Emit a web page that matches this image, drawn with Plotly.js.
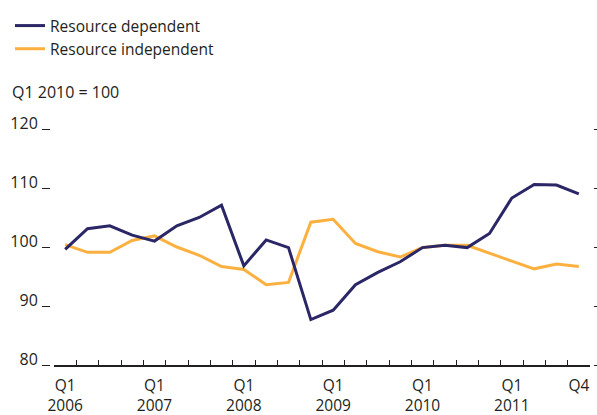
<!DOCTYPE html>
<html>
<head>
<meta charset="utf-8">
<script src="https://cdn.plot.ly/plotly-3.0.1.min.js"></script>
<style>
  html, body { margin: 0; padding: 0; background: #ffffff; }
  #chart { width: 597px; height: 415px; }
</style>
</head>
<body>
<div id="chart"></div>
<script>
var quarters = [
  "Q1 2006","Q2 2006","Q3 2006","Q4 2006",
  "Q1 2007","Q2 2007","Q3 2007","Q4 2007",
  "Q1 2008","Q2 2008","Q3 2008","Q4 2008",
  "Q1 2009","Q2 2009","Q3 2009","Q4 2009",
  "Q1 2010","Q2 2010","Q3 2010","Q4 2010",
  "Q1 2011","Q2 2011","Q3 2011","Q4 2011"
];
var resourceDependent = [
  99.6, 103.1, 103.6, 102.0,
  101.0, 103.6, 105.0, 107.1,
  96.8, 101.2, 99.9, 87.7,
  89.3, 93.6, 95.7, 97.5,
  99.9, 100.3, 99.9, 102.3,
  108.3, 110.6, 110.5, 109.0
];
var resourceIndependent = [
  100.4, 99.1, 99.1, 101.1,
  101.9, 100.0, 98.6, 96.7,
  96.2, 93.6, 94.0, 104.2,
  104.7, 100.6, 99.2, 98.3,
  99.9, 100.3, 100.3, 98.9,
  97.6, 96.3, 97.1, 96.7
];
var labelPositions = [0, 4, 8, 12, 16, 20, 23];
var labelTexts = ["Q1<br>2006", "Q1<br>2007", "Q1<br>2008", "Q1<br>2009", "Q1<br>2010", "Q1<br>2011", "Q4"];
var yTicks = [80, 90, 100, 110, 120];

var idx = quarters.map(function (q, i) { return i; });
var boundaries = [];
for (var i = 0; i <= quarters.length; i++) boundaries.push(i - 0.5);

var FONT = "Open Sans, sans-serif";
var TXT = "#231f20";
var NAVY = "#2b2767";
var ORANGE = "#fbb040";

var traces = [
  {
    x: idx, y: resourceIndependent, text: quarters, type: "scatter", mode: "lines",
    name: "Resource independent", line: { color: ORANGE, width: 3 },
    legendrank: 2, legendgroup: "b", hoverinfo: "text+y"
  },
  {
    x: idx, y: resourceDependent, text: quarters, type: "scatter", mode: "lines",
    name: "Resource dependent", line: { color: NAVY, width: 3 },
    legendrank: 1, legendgroup: "a", hoverinfo: "text+y"
  },
  {
    x: [0], y: [100], xaxis: "x2", yaxis: "y2", type: "scatter", mode: "none",
    showlegend: false, hoverinfo: "skip"
  }
];

var layout = {
  width: 597, height: 415,
  margin: { l: 54, r: 7, t: 129, b: 50, pad: 0, autoexpand: false },
  paper_bgcolor: "#ffffff", plot_bgcolor: "#ffffff",
  font: { family: FONT, size: 16, color: TXT },
  showlegend: true,
  title: {
    text: "Q1 2010 = 100",
    xref: "container", yref: "container",
    x: 12 / 597, xanchor: "left",
    y: 1 - 92.7 / 415, yanchor: "middle",
    font: { family: FONT, size: 16, color: TXT }
  },
  legend: {
    xref: "container", yref: "container",
    x: 10 / 597, xanchor: "left", y: 1 - 9 / 415, yanchor: "top",
    traceorder: "grouped", tracegroupgap: 0,
    font: { family: FONT, size: 15.5, color: TXT },
    bgcolor: "rgba(0,0,0,0)"
  },
  xaxis: {
    range: [-0.5, 23.5], showgrid: false, zeroline: false,
    showline: true, linecolor: TXT, linewidth: 2,
    tickmode: "array", tickvals: boundaries, showticklabels: false,
    ticks: "inside", ticklen: 5, tickwidth: 1, tickcolor: TXT,
    fixedrange: true
  },
  xaxis2: {
    overlaying: "x", anchor: "y2", side: "bottom",
    range: [-0.5, 23.5], showgrid: false, zeroline: false, showline: false,
    tickmode: "array", tickvals: labelPositions, ticktext: labelTexts,
    ticks: "", ticklabelstandoff: 9,
    tickfont: { family: FONT, size: 15.5, color: TXT }
  },
  yaxis: {
    range: [80, 120], showgrid: false, zeroline: false, showline: false,
    anchor: "free", position: 0, shift: -4,
    tickmode: "array", tickvals: yTicks,
    ticks: "outside", ticklen: 8, tickwidth: 1, tickcolor: TXT,
    ticklabelshift: -6, ticklabelstandoff: 1,
    tickfont: { family: FONT, size: 16, color: TXT },
    fixedrange: true
  },
  yaxis2: {
    overlaying: "y", side: "right",
    anchor: "free", position: 1, shift: 3,
    range: [80, 120], showgrid: false, zeroline: false, showline: false,
    tickmode: "array", tickvals: yTicks, showticklabels: false,
    ticks: "outside", ticklen: 3, tickwidth: 1, tickcolor: TXT
  }
};

Plotly.newPlot("chart", traces, layout, { displayModeBar: false, staticPlot: true });
</script>
</body>
</html>
